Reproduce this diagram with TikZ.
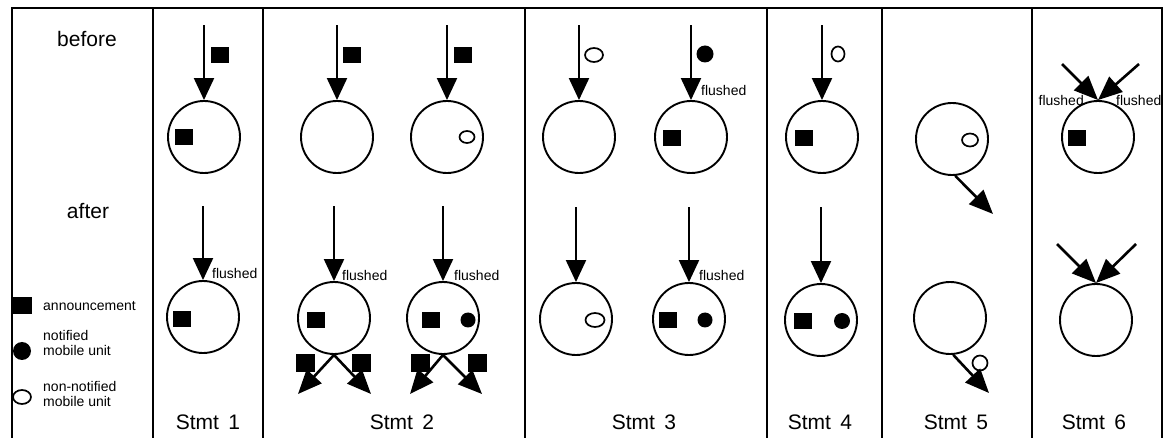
\documentclass[tikz,border=0pt]{standalone}
\usepackage{fontspec}
\setmainfont{Liberation Sans}
\usetikzlibrary{arrows.meta,shapes.geometric}
\begin{document}
\begin{tikzpicture}[x=1pt,y=-1pt,
  frame/.style={line width=2.2pt},
  unit/.style={circle,draw,line width=1.9pt,minimum size=72pt,inner sep=0pt},
  ann/.style={rectangle,fill=black,minimum width=18pt,minimum height=16pt,inner sep=0pt},
  dotm/.style={circle,fill=black,minimum size=15pt,inner sep=0pt},
  ovalm/.style={ellipse,draw,line width=1.7pt,minimum width=17pt,minimum height=13pt,inner sep=0pt},
  arr/.style={line width=2.1pt,-{Triangle[width=20pt,length=22pt]}},
  darr/.style={line width=2.6pt,-{Triangle[width=20pt,length=24pt]}},
  big/.style={font=\fontsize{21}{23}\selectfont,inner sep=0pt},
  small/.style={font=\fontsize{14}{15}\selectfont,inner sep=0pt},
  lab/.style={small,anchor=west},
]
\fill[white] (0,0) rectangle (1165,438);
\useasboundingbox (0,0) rectangle (1165,438);
% frame and column dividers
\draw[frame] (12,438) -- (12,8) -- (1162,8) -- (1162,438);
\foreach \x in {153,263,525,767,882,1032} \draw[frame] (\x,8) -- (\x,438);

% row labels
\node[big] (before) at (87,39) {before};
\node[big] (after) at (88,211) {after};

% legend
\node[ann,minimum width=19pt,minimum height=17pt] (lgA) at (22,306) {};
\node[lab] (lgAt) at (43,306) {announcement};
\node[dotm,minimum size=18pt] (lgN) at (22,351) {};
\node[lab,align=left] (lgNt) at (43,343) {notified\\mobile unit};
\node[ovalm,minimum width=18pt,minimum height=14pt] (lgO) at (22,397) {};
\node[lab,align=left] (lgOt) at (43,394) {non-notified\\mobile unit};

% ---------- Stmt 1 ----------
\node[unit] (c1b) at (204,137) {};
\coordinate (s1b) at ([yshift=75pt]c1b.north);
\draw[arr] (s1b) -- (c1b.north);
\node[ann] (m1b) at (220,55) {};
\node[ann] (i1b) at (184,137) {};
\node[unit] (c1a) at (203,317) {};
\coordinate (s1a) at ([yshift=74pt]c1a.north);
\draw[arr] (s1a) -- (c1a.north);
\node[lab] (f1a) at (212,273) {flushed};
\node[ann] (i1a) at (182,319) {};
\node[big] (st1) at (208,422) {Stmt\hspace{0.45em}1};

% ---------- Stmt 2 ----------
\node[unit] (c2b) at (337,137) {};
\coordinate (s2b) at ([yshift=75pt]c2b.north);
\draw[arr] (s2b) -- (c2b.north);
\node[ann] (m2b) at (352,55) {};
\node[unit] (c3b) at (447,137) {};
\coordinate (s3b) at ([yshift=75pt]c3b.north);
\draw[arr] (s3b) -- (c3b.north);
\node[ann] (m3b) at (463,55) {};
\node[ovalm,minimum width=15pt,minimum height=12pt] (i3b) at (467,137) {};

\node[unit] (c2a) at (334,318) {};
\coordinate (s2a) at ([yshift=75pt]c2a.north);
\draw[arr] (s2a) -- (c2a.north);
\node[lab] (f2a) at (342,275) {flushed};
\node[ann] (i2a) at (316,320) {};
\coordinate (t2l) at (298,394);
\coordinate (t2r) at (371,394);
\draw[darr] (c2a.south) -- (t2l);
\draw[darr] (c2a.south) -- (t2r);
\node[ann,minimum width=19pt,minimum height=18pt] (q2l) at (305,363) {};
\node[ann,minimum width=19pt,minimum height=18pt] (q2r) at (361,363) {};

\node[unit] (c3a) at (443,318) {};
\coordinate (s3a) at ([yshift=75pt]c3a.north);
\draw[arr] (s3a) -- (c3a.north);
\node[lab] (f3a) at (454,275) {flushed};
\node[ann] (i3a) at (431,320) {};
\node[dotm] (d3a) at (468,320) {};
\coordinate (t3l) at (410,394);
\coordinate (t3r) at (482,394);
\draw[darr] (c3a.south) -- (t3l);
\draw[darr] (c3a.south) -- (t3r);
\node[ann,minimum width=19pt,minimum height=18pt] (q3l) at (420,363) {};
\node[ann,minimum width=19pt,minimum height=18pt] (q3r) at (477,363) {};
\node[big] (st2) at (402,422) {Stmt\hspace{0.45em}2};

% ---------- Stmt 3 ----------
\node[unit] (c4b) at (579,137) {};
\coordinate (s4b) at ([yshift=75pt]c4b.north);
\draw[arr] (s4b) -- (c4b.north);
\node[ovalm,minimum width=18pt,minimum height=14pt] (m4b) at (594,55) {};

\node[unit] (c5b) at (691,137) {};
\coordinate (s5b) at ([yshift=75pt]c5b.north);
\draw[arr] (s5b) -- (c5b.north);
\node[dotm,minimum width=15pt,minimum height=17pt] (m5b) at (705,54) {};
\node[lab] (f5b) at (701,90) {flushed};
\node[ann] (i5b) at (672,138) {};

\node[unit] (c4a) at (576,319) {};
\coordinate (s4a) at ([yshift=75pt]c4a.north);
\draw[arr] (s4a) -- (c4a.north);
\node[ovalm,minimum width=19pt,minimum height=14pt] (i4a) at (595,320) {};

\node[unit] (c5a) at (689,319) {};
\coordinate (s5a) at ([yshift=75pt]c5a.north);
\draw[arr] (s5a) -- (c5a.north);
\node[lab] (f5a) at (699,275) {flushed};
\node[ann] (i5a) at (668,320) {};
\node[dotm] (d5a) at (705,320) {};
\node[big] (st3) at (644,422) {Stmt\hspace{0.45em}3};

% ---------- Stmt 4 ----------
\node[unit] (c6b) at (822,137) {};
\coordinate (s6b) at ([yshift=75pt]c6b.north);
\draw[arr] (s6b) -- (c6b.north);
\node[ovalm,minimum width=13pt,minimum height=15pt] (m6b) at (838,54) {};
\node[ann] (i6b) at (804,138) {};

\node[unit] (c6a) at (821,320) {};
\coordinate (s6a) at ([yshift=76pt]c6a.north);
\draw[arr] (s6a) -- (c6a.north);
\node[ann] (i6a) at (803,321) {};
\node[dotm,minimum size=16pt] (d6a) at (842,321) {};
\node[big] (st4) at (820,422) {Stmt\hspace{0.45em}4};

% ---------- Stmt 5 ----------
\node[unit] (c7b) at (952,139) {};
\node[ovalm,minimum width=16pt,minimum height=13pt] (i7b) at (970,140) {};
\coordinate (t7b) at (993,214);
\draw[darr] (c7b.-85) -- (t7b);

\node[unit] (c7a) at (950,318) {};
\coordinate (t7a) at (989,393);
\draw[darr] (c7a.-85) -- (t7a);
\node[ovalm,minimum size=15pt] (o7a) at (980,363) {};
\node[big] (st5) at (956,422) {Stmt\hspace{0.45em}5};

% ---------- Stmt 6 ----------
\node[unit] (c8b) at (1098,137) {};
\node[ann] (i8b) at (1077,138) {};
\coordinate (s8bl) at (1062,64);
\coordinate (s8br) at (1139,64);
\draw[darr] (s8bl) -- (c8b.north);
\draw[darr] (s8br) -- (c8b.north);
\node[small,anchor=east] (f8l) at (1084,100) {flushed};
\node[lab] (f8r) at (1116,100) {flushed};

\node[unit] (c8a) at (1096,320) {};
\coordinate (s8al) at (1057,244);
\coordinate (s8ar) at (1136,244);
\draw[darr] (s8al) -- (c8a.north);
\draw[darr] (s8ar) -- (c8a.north);
\node[big] (st6) at (1094,422) {Stmt\hspace{0.45em}6};
\end{tikzpicture}
\end{document}
